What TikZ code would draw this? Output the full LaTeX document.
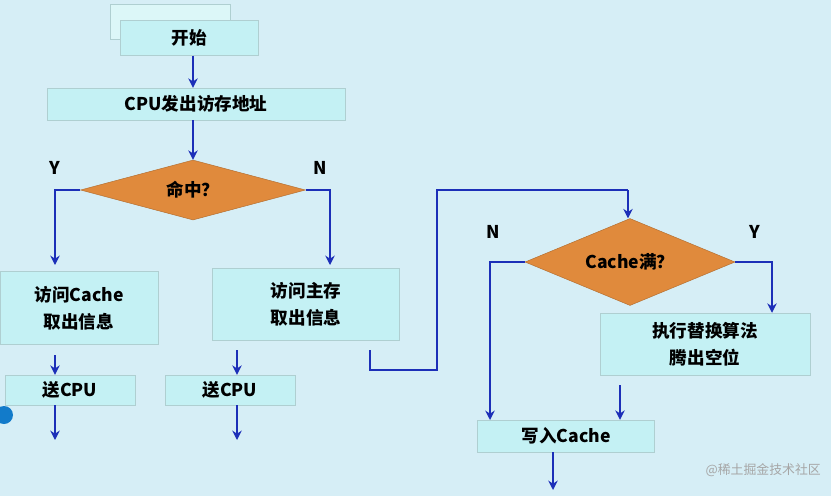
\documentclass[tikz,border=0pt]{standalone}
\usepackage{fontspec}
\setmainfont{Noto Sans CJK SC}
\usetikzlibrary{positioning,shapes.geometric,arrows.meta}
\definecolor{bgblue}{HTML}{D6EEF6}
\definecolor{boxfill}{HTML}{C4F1F4}
\definecolor{linkblue}{HTML}{1C2FB8}
\definecolor{decorange}{HTML}{E08A3C}
\begin{document}
\begin{tikzpicture}[x=0.03cm,y=-0.03cm,
    font=\fontsize{15}{23}\selectfont\bfseries,
    box/.style={fill=boxfill, draw=boxfill!70!gray, align=center, inner sep=0pt},
    decide/.style={diamond, aspect=2.6, fill=decorange, draw=decorange!80!black, inner sep=0pt},
    link/.style={draw=linkblue, line width=2pt, -{Stealth[length=8pt,width=8pt]}},
    wire/.style={draw=linkblue, line width=2pt}]
    \fill[bgblue] (0,0) rectangle (831,496);
    \useasboundingbox (0,0) rectangle (831,496);

    \node[box, minimum width=120*0.03cm, minimum height=35*0.03cm, fill=boxfill!60] (old) at (170,22) {};
    \node[box, minimum width=138*0.03cm, minimum height=35*0.03cm] (start) at (189,38) {开始};
    \node[box, minimum width=298*0.03cm, minimum height=32*0.03cm] (cpu) at (196,104) {CPU发出访存地址};
    \node[decide, minimum width=225*0.03cm, minimum height=60*0.03cm] (hit) at (193,190) {命中？};
    \node[box, minimum width=158*0.03cm, minimum height=73*0.03cm] (cache) at (79,308) {访问Cache\\取出信息};
    \node[box, minimum width=187*0.03cm, minimum height=72*0.03cm] (mem) at (306,304) {访问主存\\取出信息};
    \node[box, minimum width=130*0.03cm, minimum height=30*0.03cm] (sendA) at (70,390) {送CPU};
    \node[box, minimum width=130*0.03cm, minimum height=30*0.03cm] (sendB) at (230,390) {送CPU};
    \node[decide, minimum width=210*0.03cm, minimum height=87*0.03cm] (full) at (630,262) {Cache满？};
    \node[box, minimum width=210*0.03cm, minimum height=62*0.03cm] (swap) at (705,344) {执行替换算法\\腾出空位};
    \node[box, minimum width=177*0.03cm, minimum height=32*0.03cm] (write) at (566,436) {写入Cache};

    \node (yes1) at (55,168) {Y};
    \node (no1) at (320,168) {N};
    \node (no2) at (493,232) {N};
    \node (yes2) at (755,232) {Y};

    \coordinate (s1) at (193,0);
    \coordinate (a1) at (55,355);   \coordinate (a2) at (55,440);
    \coordinate (b1) at (237,350);  \coordinate (b2) at (237,440);
    \coordinate (c1) at (370,350);  \coordinate (c2) at (370,370);
    \coordinate (c3) at (437,370);  \coordinate (c4) at (437,190);
    \coordinate (c5) at (628,190);
    \coordinate (d1) at (620,385);  \coordinate (d2) at (553,490);

    \draw[link] (start.south -| s1) -- (cpu.north -| s1);
    \draw[link] (cpu.south -| s1) -- (hit.north -| s1);
    \draw[link] (hit.west) -- (55,190) -- (55,265);
    \draw[link] (hit.east) -- (330,190) -- (330,265);
    \draw[link] (a1) -- (sendA.north -| a1);
    \draw[link] (sendA.south -| a1) -- (a2);
    \draw[link] (b1) -- (sendB.north -| b1);
    \draw[link] (sendB.south -| b1) -- (b2);
    \draw[wire] (c1) -- (c2) -- (c3) -- (c4) -- (c5);
    \draw[link] (c5) -- (full.north -| c5);
    \draw[link] (full.west) -- (490,262) -- (490,420);
    \draw[link] (full.east) -- (772,262) -- (swap.north -| 772,0);
    \draw[link] (d1) -- (write.north -| d1);
    \draw[link] (write.south -| d2) -- (d2);

    \fill[cyan!60!blue] (4,415) circle (9);
    \node[font=\fontsize{11}{12}\selectfont, text=gray!70, anchor=east] (mark) at (825,470) {@稀土掘金技术社区};
\end{tikzpicture}
\end{document}
